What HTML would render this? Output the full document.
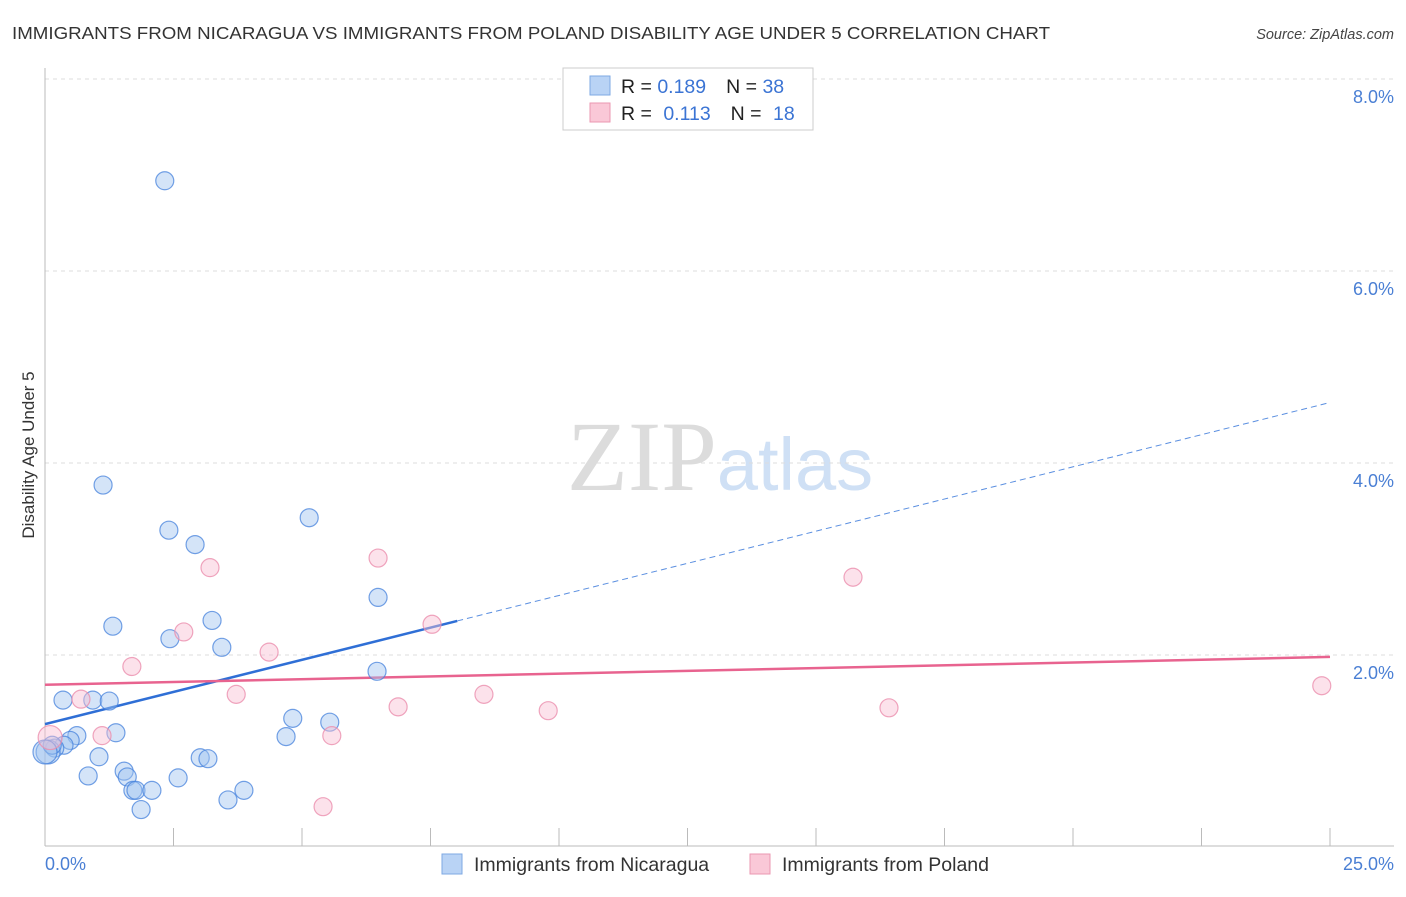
<!DOCTYPE html>
<html><head><meta charset="utf-8"><style>
body{margin:0;background:#fff;font-family:"Liberation Sans",sans-serif;}
svg text{font-family:"Liberation Sans",sans-serif;}
</style></head><body>
<svg id="chart" width="1406" height="892" xmlns="http://www.w3.org/2000/svg">
<text x="12" y="39" font-size="17.5" fill="#333" textLength="1038" lengthAdjust="spacingAndGlyphs">IMMIGRANTS FROM NICARAGUA VS IMMIGRANTS FROM POLAND DISABILITY AGE UNDER 5 CORRELATION CHART</text>
<text x="1394" y="39" font-size="14.5" fill="#444" font-style="italic" text-anchor="end">Source: ZipAtlas.com</text>
<text x="720" y="490" font-size="100" text-anchor="middle"><tspan fill="#dcdcdc" font-family="Liberation Serif">ZIP</tspan><tspan fill="#cfe0f5" font-size="74">atlas</tspan></text>
<g id="grid"></g>
<line x1="45" y1="68" x2="45" y2="846" stroke="#bbb"/>
<line x1="45" y1="846" x2="1394" y2="846" stroke="#bbb"/>
<g id="ticks"></g>
<text transform="translate(34,455) rotate(-90)" font-size="17" fill="#333" text-anchor="middle">Disability Age Under 5</text>
<text x="45" y="870" font-size="18" fill="#4a7fd4">0.0%</text>
<text x="1394" y="870" font-size="18" fill="#4a7fd4" text-anchor="end">25.0%</text>
<g id="lines"></g>
<g id="points"></g>
<g>
<rect x="563" y="68" width="250" height="62" fill="#fff" stroke="#ccc"/>
<rect x="590" y="76" width="20" height="19" fill="#b9d3f5" stroke="#7ea8e3"/>
<rect x="590" y="103" width="20" height="19" fill="#fac8d7" stroke="#eb97b2"/>
<text x="621" y="93" font-size="19.5" fill="#222">R = <tspan fill="#3b74d4">0.189</tspan><tspan dx="20">N = </tspan><tspan fill="#3b74d4">38</tspan></text>
<text x="621" y="120" font-size="19.5" fill="#222">R = <tspan fill="#3b74d4" dx="6">0.113</tspan><tspan dx="20">N = </tspan><tspan fill="#3b74d4" dx="6">18</tspan></text>
</g>
<g>
<rect x="442" y="854" width="20" height="20" fill="#b9d3f5" stroke="#7ea8e3"/>
<text x="474" y="871" font-size="19.5" fill="#333">Immigrants from Nicaragua</text>
</g>
<g>
<rect x="750" y="854" width="20" height="20" fill="#fac8d7" stroke="#eb97b2"/>
<text x="782" y="871" font-size="19.5" fill="#333">Immigrants from Poland</text>
</g>
</svg>
<script>
const yTicks=[2,4,6,8];
const yTickLabels=["2.0%","4.0%","6.0%","8.0%"];
const xTicks=[0,2.5,5,7.5,10,12.5,15,17.5,20,22.5,25];
const blueX=[2.33,1.13,2.41,2.92,5.14,6.48,1.32,3.25,2.43,3.44,6.46,0.35,0.93,1.25,4.82,5.54,4.69,1.38,0.62,0.49,0.37,0.19,0.06,1.05,3.02,3.17,1.54,1.60,0.84,2.59,1.71,1.77,2.08,3.87,3.56,1.87,0.14,0.0];
const blueY=[6.94,3.77,3.30,3.15,3.43,2.60,2.30,2.36,2.17,2.08,1.83,1.53,1.53,1.52,1.34,1.30,1.15,1.19,1.16,1.11,1.06,1.03,0.99,0.94,0.93,0.92,0.79,0.73,0.74,0.72,0.59,0.59,0.59,0.59,0.49,0.39,1.06,0.99];
const pinkX=[3.21,6.48,15.72,7.53,2.70,4.36,1.69,0.70,3.72,8.54,6.87,9.79,16.42,24.84,1.11,5.58,5.41,0.10];
const pinkY=[2.91,3.01,2.81,2.32,2.24,2.03,1.88,1.54,1.59,1.59,1.46,1.42,1.45,1.68,1.16,1.16,0.42,1.14];
const blueTrend=[1.28,0.134,8.02];
const pinkTrend=[1.69,0.0116];
const sx=v=>45+v*51.4, sy=v=>847-v*96;
const NS="http://www.w3.org/2000/svg";
function mk(t,a,p){const e=document.createElementNS(NS,t);for(const k in a)e.setAttribute(k,a[k]);p.appendChild(e);return e;}
const grid=document.getElementById('grid'),ticks=document.getElementById('ticks'),lines=document.getElementById('lines'),pts=document.getElementById('points');
yTicks.forEach((v,i)=>{
 const l=mk('line',{x1:45,x2:1394,y1:sy(v),y2:sy(v),stroke:'#ddd','stroke-dasharray':'4,4'},grid);
 
 
 const t=mk('text',{x:1394,y:sy(v)+24,'font-size':18,fill:'#4a7fd4','text-anchor':'end'},grid);
 t.textContent=yTickLabels[i];
 
 
});
xTicks.forEach(v=>{
 const l=mk('line',{x1:sx(v),x2:sx(v),y1:828,y2:846,stroke:'#bbb'},ticks);
 
 
});
let l1=mk('line',{x1:sx(0),y1:sy(blueTrend[0]),x2:sx(blueTrend[2]),y2:sy(blueTrend[0]+blueTrend[1]*blueTrend[2]),stroke:'#2f6fd6','stroke-width':2.5},lines);


let l2=mk('line',{x1:sx(blueTrend[2]),y1:sy(blueTrend[0]+blueTrend[1]*blueTrend[2]),x2:sx(25),y2:sy(blueTrend[0]+blueTrend[1]*25),stroke:'#5b8fe0','stroke-width':1,'stroke-dasharray':'6,4'},lines);


let l3=mk('line',{x1:sx(0),y1:sy(pinkTrend[0]),x2:sx(25),y2:sy(pinkTrend[0]+pinkTrend[1]*25),stroke:'#e8638f','stroke-width':2.5},lines);


blueX.forEach((x,i)=>{
 const c=mk('circle',{cx:sx(x),cy:sy(blueY[i]),r:x<0.1?12:9,fill:'rgba(160,196,240,0.45)',stroke:'rgba(70,130,220,0.75)','stroke-width':1.2},pts);
 
 
});
pinkX.forEach((x,i)=>{
 const c=mk('circle',{cx:sx(x),cy:sy(pinkY[i]),r:x<0.2?12:9,fill:'rgba(248,190,210,0.45)',stroke:'rgba(235,143,174,0.8)','stroke-width':1.2},pts);
 
 
});
</script>
</body></html>
